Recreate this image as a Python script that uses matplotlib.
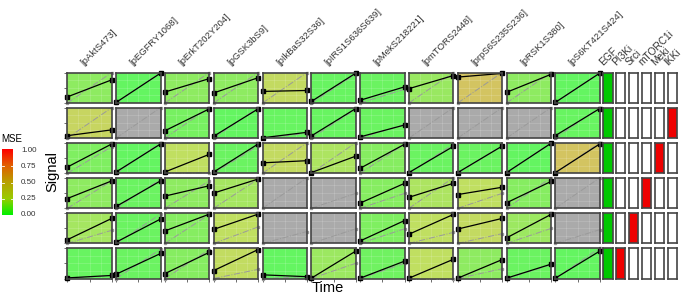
import numpy as np
import matplotlib
matplotlib.use("Agg")
import matplotlib.pyplot as plt
from matplotlib.colors import LinearSegmentedColormap, to_rgb

plt.rcParams["font.family"] = ["Liberation Sans", "DejaVu Sans"]

readouts = ["pAktS473", "pEGFRY1068", "pErkT202Y204", "pGSK3bS9", "pIkBaS32S36",
            "pIRS1S636S639", "pMekS218221", "pmTORS2448", "prpS6S235S236",
            "pRSK1S380", "pS6KT421S424"]
cues = ["EGF", "PI3Ki", "Srci", "mTORC1i", "Meki", "IKKi"]
cue_on = [[1, 0, 0, 0, 0, 0],
          [1, 0, 0, 0, 0, 1],
          [1, 0, 0, 0, 1, 0],
          [1, 0, 0, 1, 0, 0],
          [1, 0, 1, 0, 0, 0],
          [1, 1, 0, 0, 0, 0]]
times = [0, 1]
nan = np.nan

# measured data (black) at t0 and t1
data_t0 = [[0.20, 0.02, 0.36, 0.33, 0.38, 0.05, 0.09, 0.47, 0.85, 0.35, 0.02],
           [0.08, nan, 0.24, 0.06, 0.01, 0.07, 0.04, nan, nan, nan, 0.08],
           [0.20, 0.04, 0.04, 0.04, 0.34, 0.02, 0.16, 0.02, 0.02, 0.02, 0.02],
           [0.32, 0.06, 0.40, 0.50, nan, nan, 0.17, 0.36, 0.45, 0.18, nan],
           [0.12, 0.04, 0.41, 0.46, nan, nan, 0.08, 0.30, 0.47, 0.18, nan],
           [0.02, 0.14, 0.16, 0.26, 0.12, 0.01, 0.01, 0.01, 0.01, 0.01, 0.01]]
data_t1 = [[0.76, 0.98, 0.80, 0.83, 0.41, 0.98, 0.53, 0.90, 0.97, 0.94, 0.98],
           [0.27, nan, 0.96, 0.96, 0.19, 0.97, 0.43, nan, nan, nan, 0.97],
           [0.96, 0.96, 0.62, 0.96, 0.41, 0.56, 0.95, 0.88, 0.89, 0.98, 0.96],
           [0.90, 0.90, 0.74, 0.96, nan, nan, 0.82, 0.82, 0.69, 0.88, nan],
           [0.82, 0.80, 0.96, 0.96, nan, nan, 0.75, 0.95, 0.82, 0.95, nan],
           [0.10, 0.82, 0.86, 0.95, 0.06, 0.90, 0.57, 0.63, 0.62, 0.47, 0.90]]
# simulation (grey) at t0 and t1
sim_t0 = [[0.0] * 11 for _ in range(6)]
sim_t1 = [[1.00, 1.00, 1.00, 1.00, 1.00, 0.95, 0.45, 1.00, 1.00, 1.00, 1.00],
          [1.00, 1.00, 1.00, 1.00, 0.15, 0.95, 0.45, 1.00, 1.00, 1.00, 1.00],
          [0.87, 1.00, 0.02, 0.90, 1.00, 1.00, 0.95, 0.95, 0.90, 1.00, 1.00],
          [0.90, 0.95, 0.90, 0.96, 1.00, 0.49, 0.49, 1.00, 0.49, 1.00, 1.00],
          [0.43, 0.96, 0.95, 0.54, 0.39, 0.48, 0.48, 0.36, 0.32, 0.49, 0.45],
          [0.10, 0.96, 0.95, 0.30, 0.06, 0.50, 0.50, 0.00, 0.32, 0.45, 1.00]]
mse = [[0.12, 0.01, 0.12, 0.12, 0.30, 0.02, 0.03, 0.15, 0.50, 0.12, 0.01],
       [0.35, nan, 0.06, 0.01, 0.02, 0.02, 0.03, nan, nan, nan, 0.02],
       [0.08, 0.01, 0.25, 0.03, 0.30, 0.20, 0.10, 0.03, 0.03, 0.01, 0.50],
       [0.12, 0.03, 0.12, 0.18, nan, nan, 0.10, 0.20, 0.25, 0.10, nan],
       [0.18, 0.03, 0.10, 0.25, nan, nan, 0.08, 0.25, 0.30, 0.16, nan],
       [0.02, 0.03, 0.10, 0.28, 0.01, 0.16, 0.04, 0.25, 0.12, 0.03, 0.01]]
cbar_ticks = [0.0, 0.25, 0.5, 0.75, 1.0]

W, H = 685, 295
fig = plt.figure(figsize=(W / 100, H / 100), dpi=100)


def px_axes(x, y, w, h):
    return fig.add_axes([x / W, 1 - (y + h) / H, w / W, h / H])


cmap = LinearSegmentedColormap.from_list(
    "mse", [(0, "#00F000"), (0.25, "#99CC00"), (0.5, "#B8A000"),
            (0.75, "#E06000"), (1, "#FF0000")])


def panel_color(v):
    if np.isnan(v):
        return "#AAAAAA"
    c = np.array(to_rgb(cmap(v)))
    return tuple(1 - 0.62 * (1 - c))


x0, col_pitch, pw = 67.3, 48.8, 44.5
y0, row_pitch, ph = 72.5, 35.1, 30.5
edge = "#444444"

for r in range(6):
    for c in range(11):
        ax = px_axes(x0 + c * col_pitch, y0 + r * row_pitch, pw, ph)
        ax.set_facecolor(panel_color(mse[r][c]))
        for g in [0.25, 0.5, 0.75]:
            ax.axvline(g, color="white", lw=0.5, alpha=0.2)
            ax.axhline(g, color="white", lw=0.5, alpha=0.2)
        ax.plot(times, [sim_t0[r][c], sim_t1[r][c]], color="#9a9a9a", lw=0.7,
                ls="-.", marker="s", ms=2, clip_on=False)
        ax.plot(times, [data_t0[r][c], data_t1[r][c]], color="black", lw=0.9,
                marker="s", ms=3, clip_on=False)
        ax.set_xlim(0, 1)
        ax.set_ylim(0, 1)
        for s in ax.spines.values():
            s.set_color(edge)
            s.set_linewidth(1.2)
        ax.set_xticks([0, 0.5, 1] if r == 5 else [])
        ax.set_yticks([0, 0.5, 1] if c == 0 else [])
        ax.tick_params(length=2.5, width=0.6, color="#555555",
                       labelbottom=False, labelleft=False)
        if r == 0:
            fig.text((x0 + c * col_pitch + 17) / W, 1 - 66 / H,
                     "[" + readouts[c] + "]", rotation=45, rotation_mode="anchor",
                     ha="left", va="baseline", fontsize=6.8, color="#333333")

cx0, cpitch, cw = 603.3, 12.9, 9.3
for r in range(6):
    for k in range(len(cues)):
        ax = px_axes(cx0 + k * cpitch, y0 + r * row_pitch, cw, ph)
        if cue_on[r][k]:
            ax.set_facecolor("#00C800" if k == 0 else "#EE0000")
        ax.set_xticks([])
        ax.set_yticks([])
        for s in ax.spines.values():
            s.set_color(edge)
            s.set_linewidth(1.2)
for k, name in enumerate(cues):
    fig.text((cx0 + k * cpitch) / W, 1 - 66 / H, name, rotation=45,
             rotation_mode="anchor", ha="left", va="baseline", fontsize=7.3,
             color="#333333")

# colour bar
cax = px_axes(2, 148, 11, 69)
grad = np.linspace(0, 1, 200).reshape(-1, 1)
cax.imshow(grad, cmap=cmap, aspect="auto", origin="lower", extent=[0, 1, 0, 1])
for t in cbar_ticks[1:-1]:
    cax.plot([0, 0.2], [t, t], color="white", lw=0.6)
    cax.plot([0.8, 1], [t, t], color="white", lw=0.6)
cax.set_xlim(0, 1)
cax.set_ylim(-0.03, 1.03)
cax.axis("off")
for t in cbar_ticks:
    yp = 215 - t * 65
    fig.text(21 / W, 1 - yp / H, "%.2f" % t, fontsize=5.8, va="center",
             ha="left", color="#333333")
fig.text(1 / W, 1 - 139 / H, "MSE", fontsize=7, va="center", ha="left")

fig.text(52 / W, 1 - 172 / H, "Signal", rotation=90, fontsize=10.5,
         ha="center", va="center")
fig.text(328 / W, 1 - 288 / H, "Time", fontsize=10.5, ha="center", va="center")

fig.savefig("out.png", dpi=100)
